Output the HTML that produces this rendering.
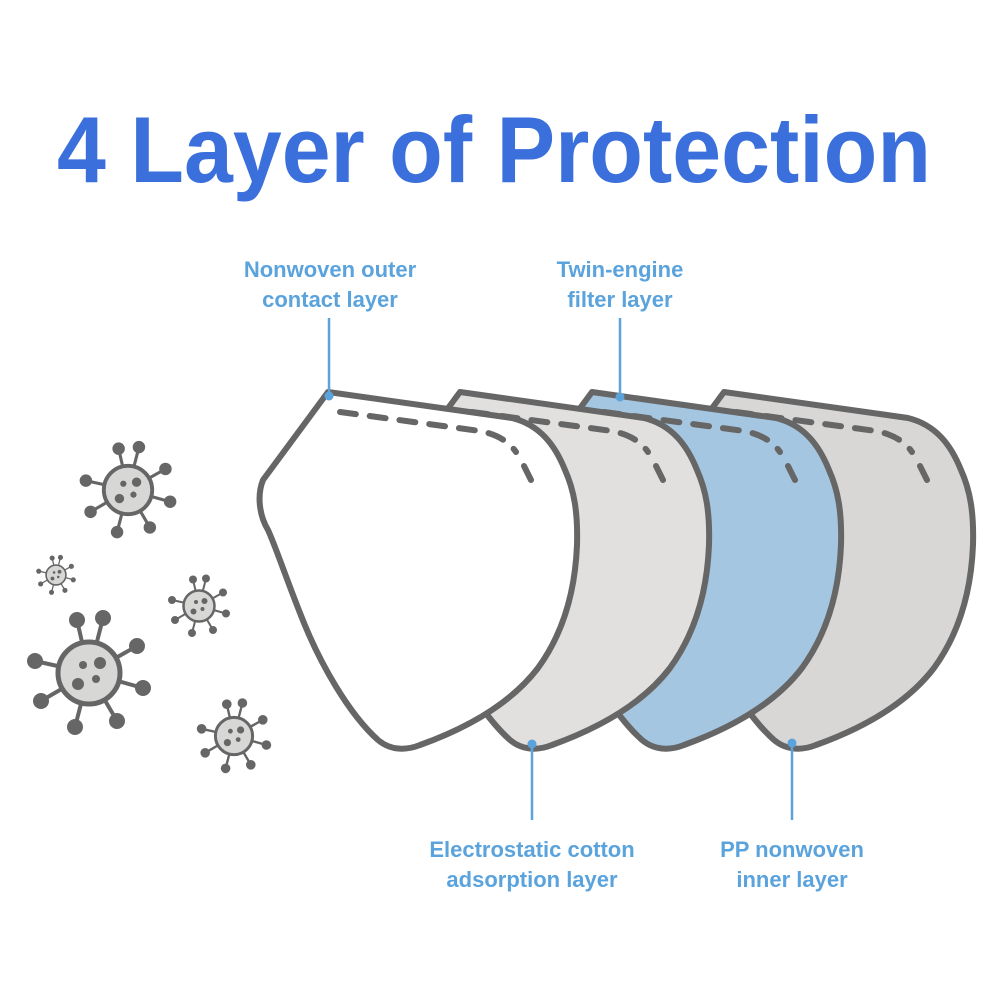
<!DOCTYPE html>
<html><head><meta charset="utf-8"><style>
html,body{margin:0;padding:0;background:#fff;}
svg{display:block;}
</style></head><body>
<svg width="1000" height="1000" viewBox="0 0 1000 1000" xmlns="http://www.w3.org/2000/svg">
<defs>
<path id="mask" d="M328,392 L512,418 C540,425 555,445 565,470 C574,490 578,512 577,545 C575,595 562,635 538,668 C512,702 470,727 420,745 C405,751 390,750 378,740 C350,715 320,665 300,613 C285,575 275,545 268,530 C259,515 257,495 263,480 Z"/>
<path id="dash" d="M340,412 L480,431 Q505,436 516,452 M524,466 L531,480" fill="none" stroke="#666" stroke-width="6" stroke-linecap="round"/>
<g id="virus">
  <g stroke="#666" stroke-width="4" fill="#666">
    <line x1="0" y1="0" x2="-12" y2="-53"/><circle cx="-12" cy="-53" r="6"/>
    <line x1="0" y1="0" x2="14" y2="-55"/><circle cx="14" cy="-55" r="6"/>
    <line x1="0" y1="0" x2="48" y2="-27"/><circle cx="48" cy="-27" r="6"/>
    <line x1="0" y1="0" x2="54" y2="15"/><circle cx="54" cy="15" r="6"/>
    <line x1="0" y1="0" x2="28" y2="48"/><circle cx="28" cy="48" r="6"/>
    <line x1="0" y1="0" x2="-14" y2="54"/><circle cx="-14" cy="54" r="6"/>
    <line x1="0" y1="0" x2="-48" y2="28"/><circle cx="-48" cy="28" r="6"/>
    <line x1="0" y1="0" x2="-54" y2="-12"/><circle cx="-54" cy="-12" r="6"/>
  </g>
  <circle cx="0" cy="0" r="31" fill="#d7d7d6" stroke="#666" stroke-width="5"/>
  <circle cx="11" cy="-10" r="6" fill="#666"/>
  <circle cx="-6" cy="-8" r="4" fill="#666"/>
  <circle cx="-11" cy="11" r="6" fill="#666"/>
  <circle cx="7" cy="6" r="4" fill="#666"/>
</g>
</defs>

<text x="57" y="182" font-family="Liberation Sans, sans-serif" font-weight="bold" font-size="94" fill="#3a6fdc" textLength="874" lengthAdjust="spacingAndGlyphs">4 Layer of Protection</text>

<g font-family="Liberation Sans, sans-serif" font-weight="bold" font-size="22" fill="#5ba3dc" text-anchor="middle">
  <text x="330" y="277">Nonwoven outer</text>
  <text x="330" y="307">contact layer</text>
  <text x="620" y="277">Twin-engine</text>
  <text x="620" y="307">filter layer</text>
  <text x="532" y="857">Electrostatic cotton</text>
  <text x="532" y="887">adsorption layer</text>
  <text x="792" y="857">PP nonwoven</text>
  <text x="792" y="887">inner layer</text>
</g>

<g stroke="#666" stroke-width="6" stroke-linejoin="round">
  <use href="#mask" transform="translate(396,0)" fill="#d8d7d6"/>
  <use href="#mask" transform="translate(264,0)" fill="#a5c6e0"/>
  <use href="#mask" transform="translate(132,0)" fill="#e1e0df"/>
</g>
<g stroke-dasharray="16 14">
  <use href="#dash" transform="translate(396,0)"/>
  <use href="#dash" transform="translate(264,0)"/>
  <use href="#dash" transform="translate(132,0)"/>
</g>
<use href="#mask" fill="#fff" stroke="#666" stroke-width="6" stroke-linejoin="round"/>
<use href="#dash" stroke-dasharray="16 14"/>

<g stroke="#5ba3dc" stroke-width="2.5" fill="#5ba3dc">
  <line x1="329" y1="318" x2="329" y2="395"/><circle cx="329" cy="396" r="4.5" stroke="none"/>
  <line x1="620" y1="318" x2="620" y2="396"/><circle cx="620" cy="397" r="4.5" stroke="none"/>
  <line x1="532" y1="744" x2="532" y2="820"/><circle cx="532" cy="744" r="4.5" stroke="none"/>
  <line x1="792" y1="743" x2="792" y2="820"/><circle cx="792" cy="743" r="4.5" stroke="none"/>
</g>

<use href="#virus" transform="translate(89,673) scale(1.0)"/>
<use href="#virus" transform="translate(128,490) scale(0.78)"/>
<use href="#virus" transform="translate(56,575) scale(0.32)"/>
<use href="#virus" transform="translate(199,606) scale(0.5)"/>
<use href="#virus" transform="translate(234,736) scale(0.6)"/>
</svg>
</body></html>
